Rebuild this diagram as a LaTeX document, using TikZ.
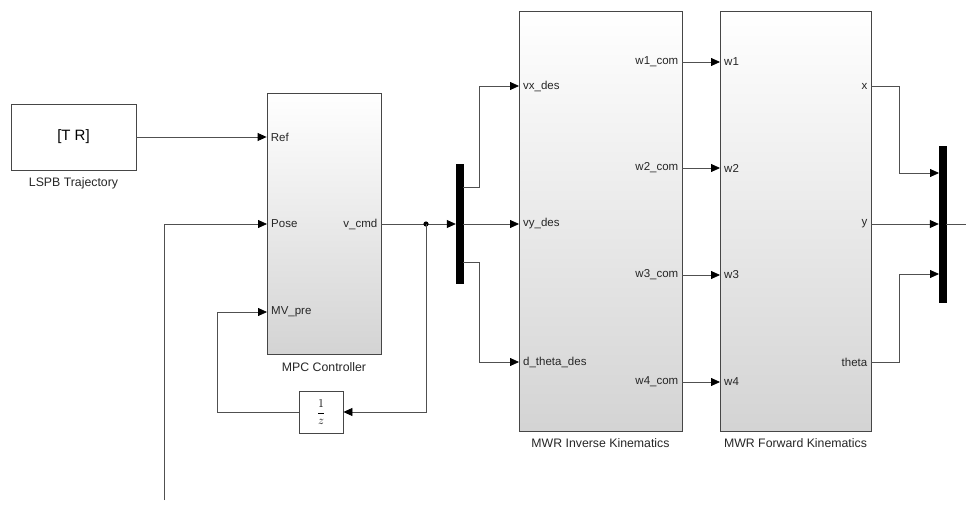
\documentclass[tikz,border=0pt]{standalone}
\usepackage{fontspec}
\setmainfont{Liberation Sans}
\usetikzlibrary{arrows.meta,positioning,shadows}
\definecolor{Wire}{RGB}{80,80,80}
\definecolor{Edge}{RGB}{70,70,70}
\tikzset{
  blk/.style={rectangle,draw=Edge,line width=0.8pt,fill=white,inner sep=0pt,
              drop shadow={shadow xshift=1.2pt,shadow yshift=-1.2pt,opacity=.35}},
  gblk/.style={blk,top color=white,middle color=black!2,bottom color=black!17},
  muxbar/.style={rectangle,fill=black,draw=black,inner sep=0pt,minimum width=7pt},
  blkname/.style={font=\fontsize{12.3}{14}\selectfont,inner sep=0pt,text=black!85},
  inlbl/.style={anchor=west,inner sep=0pt,xshift=4pt,font=\fontsize{11.5}{13}\selectfont,text=black!85},
  outlbl/.style={anchor=east,inner sep=0pt,xshift=-3.5pt,font=\fontsize{11.5}{13}\selectfont,text=black!85},
  sig/.style={draw=Wire,line width=0.8pt,-{Triangle[length=9pt,width=8pt,color=black]}},
  wire/.style={draw=Wire,line width=0.8pt},
}

\begin{document}
\begin{tikzpicture}[x=1pt,y=-1pt]
  \useasboundingbox (0,0) rectangle (966,505);

  % blocks
  \node[blk,minimum width=125pt,minimum height=66pt,font=\fontsize{15}{17}\selectfont] (lspb) at (73.5,137) {[T R]};
  \node[blkname,below=7pt of lspb] (lspbname) {LSPB Trajectory};
  \node[gblk,minimum width=114pt,minimum height=261pt] (mpc) at (324,223.5) {};
  \node[blkname,below=8pt of mpc] (mpcname) {MPC Controller};
  \node[blk,minimum width=44pt,minimum height=42pt,font=\large] (delay) at (321,412) {$\displaystyle\frac{1}{z}$};
  \node[muxbar,minimum height=119pt] (muxA) at (459.5,223.5) {};
  \node[gblk,minimum width=163pt,minimum height=420pt] (ik) at (600.5,221) {};
  \node[blkname,below=7pt of ik] (ikname) {MWR Inverse Kinematics};
  \node[gblk,minimum width=151pt,minimum height=420pt] (fk) at (795.5,221) {};
  \node[blkname,below=7pt of fk] (fkname) {MWR Forward Kinematics};
  \node[muxbar,minimum height=156pt] (muxB) at (942.5,224) {};

  % ports
  \coordinate (mpc-ref) at (mpc.west |- lspb.east);
  \coordinate (mpc-pose) at (267,224);
  \coordinate (mpc-mv) at (267,312);
  \coordinate (mpc-v) at (381,224);
  \node[inlbl] at (mpc-ref) {Ref};
  \node[inlbl] at (mpc-pose) {Pose};
  \node[inlbl] at (mpc-mv) {MV\_pre};
  \node[outlbl] at (mpc-v) {v\_cmd};

  \coordinate (ik-vx) at (519,86);
  \coordinate (ik-vy) at (519,224);
  \coordinate (ik-dth) at (519,362);
  \node[inlbl] at (ik-vx) {vx\_des};
  \node[inlbl] at (ik-vy) {vy\_des};
  \node[inlbl] at (ik-dth) {d\_theta\_des};

  \coordinate (fk-x) at (871,86);
  \coordinate (fk-y) at (871,224);
  \coordinate (fk-th) at (871,362);
  \node[outlbl] at (fk-x) {x};
  \node[outlbl] at (fk-y) {y};
  \node[outlbl] at (fk-th) {theta};

  \foreach \i/\yy in {1/62,2/168,3/275,4/382}{
    \coordinate (ik-o\i) at (682,\yy);
    \coordinate (fk-i\i) at (720,\yy);
    \node[outlbl] at (ik-o\i) {w\i\_com};
    \node[inlbl] at (fk-i\i) {w\i};
    \draw[sig] (ik-o\i) -- (fk-i\i);
  }

  % mux pins
  \coordinate (muxA-o1) at (463,187);
  \coordinate (muxA-o3) at (463,262);
  \coordinate (muxB-i1) at (939,173);
  \coordinate (muxB-i3) at (939,274);
  \coordinate (possrc) at (164,500);
  \coordinate (br) at (426,224);
  \coordinate (out) at (966,224);

  % signals
  \draw[sig] (lspb.east) -- (mpc-ref);
  \draw[sig] (possrc) |- (mpc-pose);
  \draw[sig] (mpc-v) -- (muxA.west |- mpc-v);
  \fill[black] (br) circle (2.6);
  \draw[sig] (br) |- (delay.east);
  \draw[sig] (delay.west) -- ++(-81,0) |- (mpc-mv);
  \draw[sig] (muxA-o1) -- ++(16,0) |- (ik-vx);
  \draw[sig] (muxA.east |- ik-vy) -- (ik-vy);
  \draw[sig] (muxA-o3) -- ++(16,0) |- (ik-dth);
  \draw[sig] (fk-x) -- ++(28,0) |- (muxB-i1);
  \draw[sig] (fk-y) -- (muxB.west |- fk-y);
  \draw[sig] (fk-th) -- ++(28,0) |- (muxB-i3);
  \draw[wire] (muxB.east |- out) -- (out);
\end{tikzpicture}
\end{document}
